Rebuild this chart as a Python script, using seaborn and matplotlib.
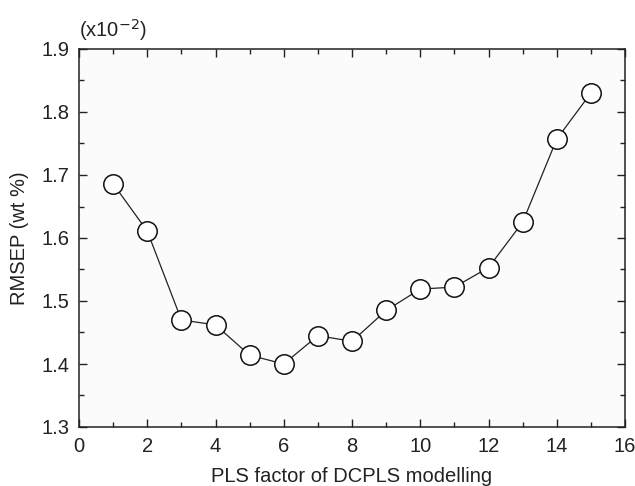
import numpy as np
import pandas as pd
import matplotlib.pyplot as plt
import seaborn as sns
from matplotlib.ticker import MultipleLocator

# PLS factors and RMSEP values (x10^-2 wt %)
factors = [1, 2, 3, 4, 5, 6, 7, 8, 9, 10, 11, 12, 13, 14, 15]
rmsep = [1.686, 1.611, 1.470, 1.462, 1.414, 1.400, 1.445, 1.436,
         1.485, 1.519, 1.522, 1.553, 1.625, 1.757, 1.830]

df = pd.DataFrame({'factor': factors, 'rmsep': rmsep})

sns.set_style('ticks')
plt.rcParams['font.family'] = ['Liberation Sans', 'DejaVu Sans']

fig = plt.figure(figsize=(6.35, 4.86), dpi=100)
ax = fig.add_axes([79 / 635, 1 - 427 / 486, 546 / 635, 378 / 486])
ax.set_facecolor('#fbfbfb')

sns.lineplot(data=df, x='factor', y='rmsep', ax=ax, color='#222222', linewidth=0.9,
             marker='o', markersize=14, markerfacecolor='white',
             markeredgecolor='#111111', markeredgewidth=1.1)

ax.set_xlim(0, 16)
ax.set_ylim(1.3, 1.9)
ax.xaxis.set_major_locator(MultipleLocator(2))
ax.xaxis.set_minor_locator(MultipleLocator(1))
ax.yaxis.set_major_locator(MultipleLocator(0.1))
ax.yaxis.set_minor_locator(MultipleLocator(0.05))
ax.tick_params(which='both', direction='in', top=True, right=True,
               labelsize=14.5, colors='#222222', width=1)
ax.tick_params(which='major', length=6, pad=7)
ax.tick_params(which='minor', length=3.5)
for s in ax.spines.values():
    s.set_linewidth(1.1)
    s.set_color('#222222')

ax.set_xlabel('PLS factor of DCPLS modelling', fontsize=14.5, color='#222222', labelpad=8)
ax.set_ylabel('RMSEP (wt %)', fontsize=14.5, color='#222222', labelpad=9)
ax.text(0.0, 1.015, r'(x10$^{-2}$)', transform=ax.transAxes, fontsize=14.5,
        color='#222222', ha='left', va='bottom')

fig.savefig('out.png', dpi=100)
